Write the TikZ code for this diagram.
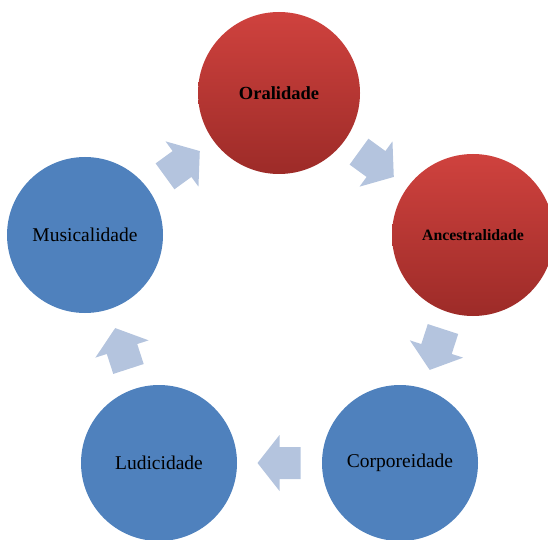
\documentclass[tikz,border=0pt]{standalone}
\usepackage{fontspec}
\setmainfont{Liberation Serif}
\usetikzlibrary{calc}

\definecolor{redtop}{HTML}{CF423E}
\definecolor{redbot}{HTML}{9D2B28}
\definecolor{bluefill}{HTML}{4F81BD}
\definecolor{arrowfill}{HTML}{B4C4DE}

\tikzset{
 stage/.style={circle,inner sep=0pt,text=black},
 redstage/.style={stage,minimum size=162pt,top color=redtop,bottom color=redbot,font=\bfseries},
 bluestage/.style={stage,minimum size=156pt,fill=bluefill,font=\fontsize{19.5}{22}\selectfont},
 blockarrow/.pic={\fill[arrowfill] (-21,-16) -- (0,-16) -- (0,-28) -- (22,0) -- (0,28) -- (0,16) -- (-21,16) -- cycle;}
}

\begin{document}
\begin{tikzpicture}[x=1pt,y=1pt]
\useasboundingbox (0,0) rectangle (548,539);

\node [redstage,font=\bfseries\fontsize{18.5}{20}\selectfont] (ora) at (279,446) {Oralidade};
\node [redstage,font=\bfseries\fontsize{15.8}{18}\selectfont] (anc) at (473,304) {Ancestralidade};
\node [bluestage] (cor) at (400,76) {Corporeidade};
\node [bluestage] (lud) at (159,76) {Ludicidade};
\node [bluestage] (mus) at (85,304) {Musicalidade};

% arrows of the cycle
\foreach \a/\b/\r in {ora/anc/-36, anc/cor/-108, cor/lud/180, lud/mus/108, mus/ora/36}
 \pic [rotate=\r] at ($(\a)!0.5!(\b)$) {blockarrow};

\end{tikzpicture}
\end{document}
